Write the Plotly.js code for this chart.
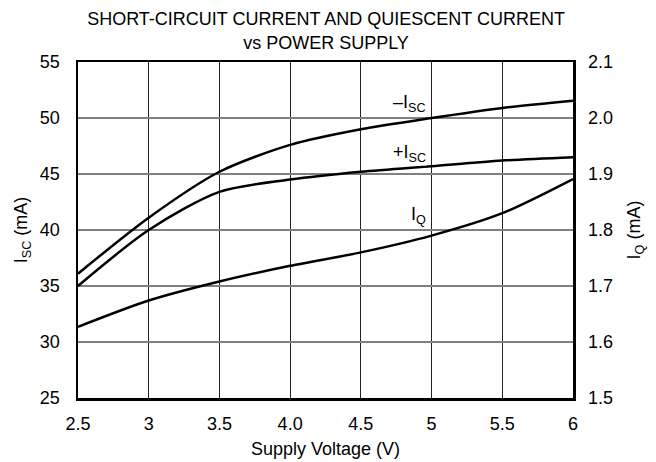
<!DOCTYPE html>
<html>
<head>
<meta charset="utf-8">
<script src="https://cdn.plot.ly/plotly-3.0.1.min.js"></script>
<style>html,body{margin:0;padding:0;background:#fff}#chart{width:656px;height:462px}</style>
</head>
<body>
<div id="chart"></div>
<script>
var voltage = [2.5, 3.0, 3.5, 4.0, 4.5, 5.0, 5.5, 6.0];
var iscNeg = [36.1, 41.1, 45.2, 47.6, 49.0, 50.0, 50.9, 51.55];
var iscPos = [35.0, 40.0, 43.4, 44.5, 45.2, 45.7, 46.2, 46.5];
var iq = [1.627, 1.674, 1.708, 1.736, 1.760, 1.790, 1.830, 1.891];
var xTickVals = [2.5, 3, 3.5, 4, 4.5, 5, 5.5, 6];
var xTickText = ['2.5', '3', '3.5', '4.0', '4.5', '5', '5.5', '6'];

var font = 'Liberation Sans, Arial, sans-serif';
var fs = 18;
var lineStyle = {color: '#000', width: 2.5, shape: 'spline', smoothing: 0.8};

var traces = [
  {x: voltage, y: iscNeg, mode: 'lines', line: lineStyle, name: '-Isc', xaxis: 'x', yaxis: 'y'},
  {x: voltage, y: iscPos, mode: 'lines', line: lineStyle, name: '+Isc', xaxis: 'x', yaxis: 'y'},
  {x: voltage, y: iq, mode: 'lines', line: lineStyle, name: 'IQ', xaxis: 'x', yaxis: 'y2'}
];

var layout = {
  width: 656, height: 462,
  margin: {l: 78, r: 83, t: 62, b: 64},
  paper_bgcolor: '#fff', plot_bgcolor: '#fff',
  showlegend: false,
  font: {family: font, size: fs, color: '#000'},
  title: {
    text: 'SHORT-CIRCUIT CURRENT AND QUIESCENT CURRENT<br>vs POWER SUPPLY',
    font: {family: font, size: fs, color: '#000'},
    x: 0.497, xanchor: 'center', y: 0.945, yanchor: 'top'
  },
  xaxis: {
    range: [2.5, 6],
    tickvals: xTickVals, ticktext: xTickText,
    showgrid: true, gridcolor: '#222', gridwidth: 1,
    showline: true, mirror: true, linecolor: '#000', linewidth: 2.5,
    ticks: '', zeroline: false, ticklabelstandoff: 8,
    tickfont: {family: font, size: fs},
    title: {text: 'Supply Voltage (V)', font: {family: font, size: fs}, standoff: 10}
  },
  yaxis: {
    range: [25, 55], dtick: 5,
    showgrid: true, gridcolor: '#808080', gridwidth: 1.5,
    showline: true, mirror: true, linecolor: '#000', linewidth: 2.5,
    ticks: '', zeroline: false, ticklabelstandoff: 12,
    tickfont: {family: font, size: fs},
    title: {text: 'I<sub>SC</sub> (mA)', font: {family: font, size: fs}, standoff: 8}
  },
  yaxis2: {
    range: [1.5, 2.1], dtick: 0.1, tickformat: '.1f',
    overlaying: 'y', side: 'right',
    showgrid: false, zeroline: false, showline: false, ticks: '',
    ticklabelstandoff: 14,
    tickfont: {family: font, size: fs},
    title: {text: 'I<sub>Q</sub> (mA)', font: {family: font, size: fs}, standoff: 15}
  },
  annotations: [
    {x: 4.97, y: 51.3, xref: 'x', yref: 'y', text: '\u2013I<sub>SC</sub>', showarrow: false,
     xanchor: 'right', yanchor: 'middle', font: {family: font, size: fs}, bgcolor: '#fff', borderpad: 0},
    {x: 4.97, y: 46.8, xref: 'x', yref: 'y', text: '+I<sub>SC</sub>', showarrow: false,
     xanchor: 'right', yanchor: 'middle', font: {family: font, size: fs}, bgcolor: '#fff', borderpad: 0},
    {x: 4.97, y: 41.3, xref: 'x', yref: 'y', text: 'I<sub>Q</sub>', showarrow: false,
     xanchor: 'right', yanchor: 'middle', font: {family: font, size: fs}, bgcolor: '#fff', borderpad: 0}
  ]
};

Plotly.newPlot('chart', traces, layout, {displayModeBar: false, staticPlot: true});
</script>
</body>
</html>
